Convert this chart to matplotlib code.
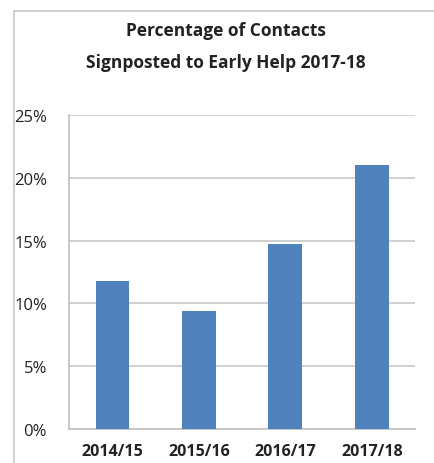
import matplotlib.pyplot as plt
from matplotlib.patches import Rectangle
from matplotlib.ticker import PercentFormatter

years = ['2014/15', '2015/16', '2016/17', '2017/18']
pct_signposted = [11.8, 9.4, 14.7, 21.0]
y_ticks = [0, 5, 10, 15, 20, 25]

plt.rcParams['font.family'] = ['Open Sans', 'DejaVu Sans']

fig = plt.figure(figsize=(4.35, 4.64), dpi=100)

# outer chart border (runs off the right and bottom of the crop)
fig.patches.append(Rectangle((0.032, -0.1), 1.2, 1.074, transform=fig.transFigure,
                             fill=False, edgecolor='#c8c8c8', linewidth=1.2))

ax = fig.add_axes([0.159, 0.073, 0.795, 0.677])
ax.bar(range(len(years)), pct_signposted, width=0.39, color='#4f81bd', zorder=3)

ax.set_ylim(0, 25)
ax.set_xlim(-0.5, len(years) - 0.5)
ax.set_yticks(y_ticks)
ax.yaxis.set_major_formatter(PercentFormatter(decimals=0))
ax.set_xticks(range(len(years)))
ax.set_xticklabels(years, fontweight='bold')
ax.tick_params(axis='y', length=0, labelsize=12, colors='#222222', pad=16)
ax.tick_params(axis='x', length=0, labelsize=11.5, colors='#222222', pad=10)
ax.grid(axis='y', color='#c8c8c8', linewidth=1.2, zorder=0)
for side in ['top', 'right']:
    ax.spines[side].set_visible(False)
for side in ['left', 'bottom']:
    ax.spines[side].set_color('#c0c0c0')
    ax.spines[side].set_linewidth(1.2)

fig.text(0.52, 0.899, 'Percentage of Contacts\nSignposted to Early Help 2017-18',
         ha='center', va='center', fontsize=12.5, fontweight='bold',
         linespacing=2.05, color='#222222')

fig.savefig('out.png', dpi=100)
